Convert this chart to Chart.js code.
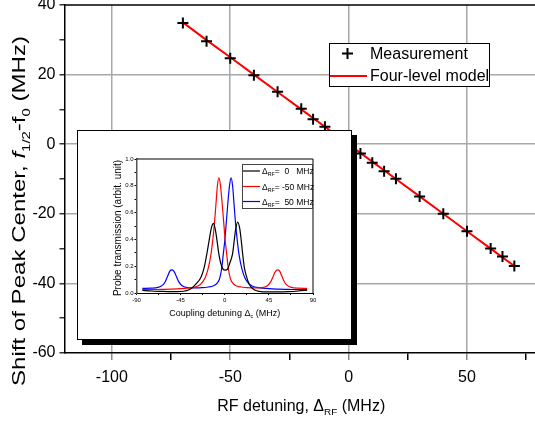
<!DOCTYPE html>
<html>
<head>
<meta charset="utf-8">
<script src="https://cdn.jsdelivr.net/npm/chart.js@4.4.0/dist/chart.umd.min.js"></script>
<style>
  html, body { margin: 0; padding: 0; background: #fff; overflow: hidden; }
  #wrap { position: relative; width: 535px; height: 421px; overflow: hidden; }
  #main { position: absolute; left: 0; top: 0; }
  #insetBox { position: absolute; left: 77px; top: 130px; width: 275px; height: 210px;
              box-sizing: border-box; border: 1px solid #000; background: #fff;
              box-shadow: 5px 5px 0 #000; }
  #inset { position: absolute; left: 0; top: 0; }
</style>
</head>
<body>
<div id="wrap">
  <canvas id="main" width="538" height="421" style="width:538px;height:421px"></canvas>
  <div id="insetBox"><canvas id="inset" width="273" height="208" style="width:273px;height:208px"></canvas></div>
</div>
<script>
// main plot: peak shift vs RF detuning
const measX = [-70, -60, -50, -40, -30, -20, -15, -10, 5, 10, 15, 20, 30, 40, 50, 60, 65, 70];
const measY = [34.8, 29.6, 24.7, 19.8, 15.1, 10.2, 7.2, 5.0, -2.7, -5.3, -7.8, -9.9, -15.0, -20.0, -25.0, -30.0, -32.3, -35.0];
const modelX = [-70, -60, -50, -40, -30, -20, -10, 0, 10, 20, 30, 40, 50, 60, 70];
const modelY = [35.0, 29.9, 25.0, 20.0, 15.0, 10.0, 5.0, 0.0, -5.0, -10.0, -15.0, -20.0, -25.0, -30.0, -35.0];

const xTickValues = [-100, -75, -50, -25, 0, 25, 50, 75];
const xTickLabels = ['-100', '', '-50', '', '0', '', '50', ''];
const yTickValues = [-60, -50, -40, -30, -20, -10, 0, 10, 20, 30, 40];
const yTickLabels = ['-60', '', '-40', '', '-20', '', '0', '', '20', '', '40'];

// inset: probe transmission vs coupling detuning
const blackX = [-84, -75, -65, -55, -48, -42, -37, -33.5, -29, -24.5, -21, -18.3, -16, -13.5, -11.5, -9.5, -7.5, -6, -4, -2, 0.5, 3, 5, 7.9, 9.5, 11, 13.2, 15.3, 17, 18.3, 20, 22.6, 25, 27.7, 31, 35, 45, 55, 65, 75, 84];
const blackY = [0.02, 0.015, 0.012, 0.01, 0.01, 0.013, 0.022, 0.038, 0.07, 0.113, 0.19, 0.29, 0.39, 0.49, 0.52, 0.47, 0.37, 0.29, 0.22, 0.18, 0.17, 0.18, 0.22, 0.29, 0.38, 0.47, 0.53, 0.48, 0.38, 0.29, 0.19, 0.113, 0.065, 0.038, 0.02, 0.012, 0.008, 0.008, 0.01, 0.015, 0.022];
const redX = [-84, -75, -65, -55, -45, -38, -32, -28, -24, -20, -17, -14, -12, -10.5, -9, -7.5, -6, -4.5, -3, -1, 0.5, 2, 3.5, 5.5, 8, 12, 17, 23, 30, 38, 43, 47, 50, 52, 54, 56, 58, 61, 64, 68, 75, 84];
const redY = [0.025, 0.025, 0.027, 0.029, 0.032, 0.036, 0.042, 0.05, 0.07, 0.113, 0.18, 0.29, 0.41, 0.52, 0.66, 0.8, 0.86, 0.81, 0.7, 0.52, 0.39, 0.29, 0.19, 0.113, 0.075, 0.052, 0.045, 0.04, 0.038, 0.04, 0.052, 0.085, 0.135, 0.163, 0.172, 0.163, 0.13, 0.08, 0.055, 0.042, 0.036, 0.034];
const blueX = [-84, -75, -68, -64, -61, -58, -56, -54, -52, -50, -47, -43, -38, -30, -23, -17, -12, -7.5, -5, -3, -1.5, 0, 1.5, 3.5, 5, 6.5, 8, 9.5, 11, 12.5, 14.5, 17.5, 20.5, 24.5, 28.5, 32.5, 38.5, 45, 55, 65, 75, 84];
const blueY = [0.034, 0.036, 0.042, 0.055, 0.08, 0.13, 0.163, 0.172, 0.163, 0.135, 0.085, 0.052, 0.04, 0.038, 0.04, 0.045, 0.052, 0.075, 0.113, 0.19, 0.29, 0.39, 0.52, 0.7, 0.81, 0.86, 0.8, 0.66, 0.52, 0.41, 0.29, 0.18, 0.113, 0.07, 0.05, 0.042, 0.036, 0.032, 0.029, 0.027, 0.025, 0.025];

const inXTickValues = [-90, -67.5, -45, -22.5, 0, 22.5, 45, 67.5, 90];
const inXTickLabels = ['-90', '', '-45', '', '0', '', '45', '', '90'];
const inYTickValues = [0, 0.1, 0.2, 0.3, 0.4, 0.5, 0.6, 0.7, 0.8, 0.9, 1.0];
const inYTickLabels = ['0.0', '', '0.2', '', '0.4', '', '0.6', '', '0.8', '', '1.0'];

const FONT = '"Liberation Sans", Arial, Helvetica, sans-serif';
const GRID = '#a8a8a8';
const NONE = 'rgba(0,0,0,0)';

const xTitleRuns = [{ t: 'RF detuning, \u0394' }, { t: 'RF', sub: true }, { t: ' (MHz)' }];
const yTitleRuns = [{ t: 'Shift of Peak Center, ' }, { t: 'f', it: true }, { t: '1/2', sub: true },
                    { t: '-f' }, { t: '0', sub: true }, { t: ' (MHz)' }];
const inXTitleRuns = [{ t: 'Coupling detuning \u0394' }, { t: 'c', sub: true }, { t: ' (MHz)' }];
const inLegendRuns = [
  [{ t: '\u0394' }, { t: 'RF', sub: true }, { t: '=  0   MHz' }],
  [{ t: '\u0394' }, { t: 'RF', sub: true }, { t: '= -50 MHz' }],
  [{ t: '\u0394' }, { t: 'RF', sub: true }, { t: '=  50 MHz' }]
];

function pts(xs, ys) { return xs.map((x, i) => ({ x: x, y: ys[i] })); }

function runFont(r, size) {
  return (r.it ? 'italic ' : '') + (r.sub ? size * 0.62 : size) + 'px ' + FONT;
}
function runsWidth(ctx, runs, size) {
  let w = 0;
  runs.forEach(r => { ctx.font = runFont(r, size); w += ctx.measureText(r.t).width; });
  return w;
}
function drawRuns(ctx, runs, x, y, size) {
  ctx.textAlign = 'left';
  ctx.textBaseline = 'alphabetic';
  runs.forEach(r => {
    ctx.font = runFont(r, size);
    ctx.fillText(r.t, x, y + (r.sub ? size * 0.25 : 0));
    x += ctx.measureText(r.t).width;
  });
}

const mainDecor = {
  id: 'mainDecor',
  afterDraw(chart) {
    const ctx = chart.ctx, a = chart.chartArea;
    ctx.save();
    ctx.strokeStyle = '#000';
    ctx.lineWidth = 1.5;
    ctx.beginPath();
    ctx.moveTo(a.left, a.top);
    ctx.lineTo(a.right, a.top);
    ctx.lineTo(a.right, a.bottom);
    ctx.stroke();

    ctx.fillStyle = '#000';
    const wx = runsWidth(ctx, xTitleRuns, 16);
    drawRuns(ctx, xTitleRuns, (a.left + a.right) / 2 - wx / 2, 411, 16);

    ctx.save();
    ctx.translate(25, 211);
    ctx.rotate(-Math.PI / 2);
    const wy = runsWidth(ctx, yTitleRuns, 18);
    ctx.scale(350 / wy, 1);
    drawRuns(ctx, yTitleRuns, -wy / 2, 0, 18);
    ctx.restore();

    // legend
    const meas = chart.data.datasets[0], model = chart.data.datasets[1];
    ctx.fillStyle = '#fff';
    ctx.fillRect(329.5, 43.5, 160, 43);
    ctx.lineWidth = 1;
    ctx.strokeStyle = '#000';
    ctx.strokeRect(329.5, 43.5, 160, 43);
    ctx.strokeStyle = meas.borderColor;
    ctx.lineWidth = 2;
    ctx.beginPath();
    ctx.moveTo(347.5, 48); ctx.lineTo(347.5, 59);
    ctx.moveTo(342, 53.5); ctx.lineTo(353, 53.5);
    ctx.stroke();
    ctx.strokeStyle = model.borderColor;
    ctx.beginPath();
    ctx.moveTo(330, 76); ctx.lineTo(367, 76);
    ctx.stroke();
    ctx.fillStyle = '#000';
    ctx.font = '16px ' + FONT;
    ctx.textAlign = 'left';
    ctx.textBaseline = 'alphabetic';
    ctx.fillText(meas.label, 370, 59);
    ctx.fillText(model.label, 370, 81);
    ctx.restore();
  }
};

new Chart(document.getElementById('main'), {
  type: 'scatter',
  data: {
    datasets: [
      { label: 'Measurement', data: pts(measX, measY), pointStyle: 'cross', pointRadius: 5.5,
        pointBorderWidth: 2, borderColor: '#000', backgroundColor: '#000', showLine: false },
      { label: 'Four-level model', data: pts(modelX, modelY), showLine: true, borderColor: '#ff0000',
        borderWidth: 2, pointRadius: 0, pointHoverRadius: 0 }
    ]
  },
  options: {
    responsive: false,
    animation: false,
    events: [],
    layout: { autoPadding: false, padding: { top: 5, right: 0, left: 0, bottom: 0 } },
    plugins: { legend: { display: false }, tooltip: { enabled: false } },
    scales: {
      x: {
        type: 'linear', min: -120, max: 80,
        afterBuildTicks: s => { s.ticks = xTickValues.map(v => ({ value: v })); },
        afterFit: s => { s.height = 68; s.paddingLeft = 0; s.paddingRight = 0; },
        ticks: { callback: (v, i) => xTickLabels[i], font: { size: 16, family: FONT }, color: '#000',
                 padding: 8, maxRotation: 0, autoSkip: false },
        grid: { color: c => (xTickLabels[c.index] ? GRID : NONE), lineWidth: 1.5, tickLength: 7,
                tickColor: c => (xTickLabels[c.index] ? '#888' : '#000'), tickWidth: 1.5 },
        border: { color: '#000', width: 1.5 }
      },
      y: {
        type: 'linear', min: -60, max: 40,
        afterBuildTicks: s => { s.ticks = yTickValues.map(v => ({ value: v })); },
        afterFit: s => { s.width = 64.5; s.paddingTop = 0; s.paddingBottom = 0; },
        ticks: { callback: (v, i) => yTickLabels[i], font: { size: 16, family: FONT }, color: '#000', padding: 4 },
        grid: { color: c => (yTickLabels[c.index] && c.index > 0 && c.index < yTickValues.length - 1 ? GRID : NONE),
                lineWidth: 1.5, tickLength: 5, tickColor: '#333', tickWidth: 1.5 },
        border: { color: '#000', width: 1.5 }
      }
    }
  },
  plugins: [mainDecor]
});

const insetDecor = {
  id: 'insetDecor',
  afterDraw(chart) {
    const ctx = chart.ctx, a = chart.chartArea;
    ctx.save();
    ctx.strokeStyle = '#000';
    ctx.lineWidth = 1;
    ctx.beginPath();
    ctx.moveTo(a.left, a.top);
    ctx.lineTo(a.right, a.top);
    ctx.lineTo(a.right, a.bottom);
    ctx.stroke();

    ctx.fillStyle = '#000';
    const wx = runsWidth(ctx, inXTitleRuns, 9);
    drawRuns(ctx, inXTitleRuns, (a.left + a.right) / 2 - wx / 2, 185, 9);

    ctx.save();
    ctx.translate(43, 97);
    ctx.rotate(-Math.PI / 2);
    ctx.font = '10px ' + FONT;
    ctx.textAlign = 'center';
    ctx.textBaseline = 'alphabetic';
    ctx.fillText('Probe transmission (arbit. unit)', 0, 0);
    ctx.restore();

    // legend
    const lx = 164, ly = 33, lw = 71, lh = 45;
    ctx.fillStyle = '#fff';
    ctx.fillRect(lx, ly, lw, lh);
    ctx.strokeStyle = '#444';
    ctx.lineWidth = 1;
    ctx.strokeRect(lx + 0.5, ly + 0.5, lw - 1, lh - 1);
    const rows = [40, 55.5, 70.5];
    chart.data.datasets.forEach((d, i) => {
      ctx.strokeStyle = d.borderColor;
      ctx.lineWidth = 1.2;
      ctx.beginPath();
      ctx.moveTo(lx + 1, rows[i]);
      ctx.lineTo(lx + 18, rows[i]);
      ctx.stroke();
      ctx.fillStyle = '#000';
      drawRuns(ctx, inLegendRuns[i], lx + 20, rows[i] + 3, 8.5);
    });
    ctx.restore();
  }
};

const lineStyle = { showLine: true, borderWidth: 1.2, pointRadius: 0, pointHoverRadius: 0,
                    cubicInterpolationMode: 'monotone' };

new Chart(document.getElementById('inset'), {
  type: 'scatter',
  data: {
    datasets: [
      Object.assign({ label: '\u0394RF= 0 MHz', data: pts(blackX, blackY), borderColor: '#000' }, lineStyle),
      Object.assign({ label: '\u0394RF= -50 MHz', data: pts(redX, redY), borderColor: '#ff0000' }, lineStyle),
      Object.assign({ label: '\u0394RF= 50 MHz', data: pts(blueX, blueY), borderColor: '#0000ff' }, lineStyle)
    ]
  },
  options: {
    responsive: false,
    animation: false,
    events: [],
    layout: { autoPadding: false, padding: { top: 28, right: 38, left: 0, bottom: 0 } },
    plugins: { legend: { display: false }, tooltip: { enabled: false } },
    scales: {
      x: {
        type: 'linear', min: -90, max: 90,
        afterBuildTicks: s => { s.ticks = inXTickValues.map(v => ({ value: v })); },
        afterFit: s => { s.height = 46; s.paddingLeft = 0; s.paddingRight = 0; },
        ticks: { callback: (v, i) => inXTickLabels[i], font: { size: 6, family: FONT }, color: '#000',
                 padding: 2, maxRotation: 0, autoSkip: false },
        grid: { drawOnChartArea: false, tickLength: 2, color: '#000', tickWidth: 1 },
        border: { color: '#000', width: 1 }
      },
      y: {
        type: 'linear', min: 0, max: 1,
        afterBuildTicks: s => { s.ticks = inYTickValues.map(v => ({ value: v })); },
        afterFit: s => { s.width = 58.5; s.paddingTop = 0; s.paddingBottom = 0; },
        ticks: { callback: (v, i) => inYTickLabels[i], font: { size: 6, family: FONT }, color: '#000', padding: 1 },
        grid: { drawOnChartArea: false, tickLength: 2, color: '#000', tickWidth: 1 },
        border: { color: '#555', width: 1.5 }
      }
    }
  },
  plugins: [insetDecor]
});
</script>
</body>
</html>
